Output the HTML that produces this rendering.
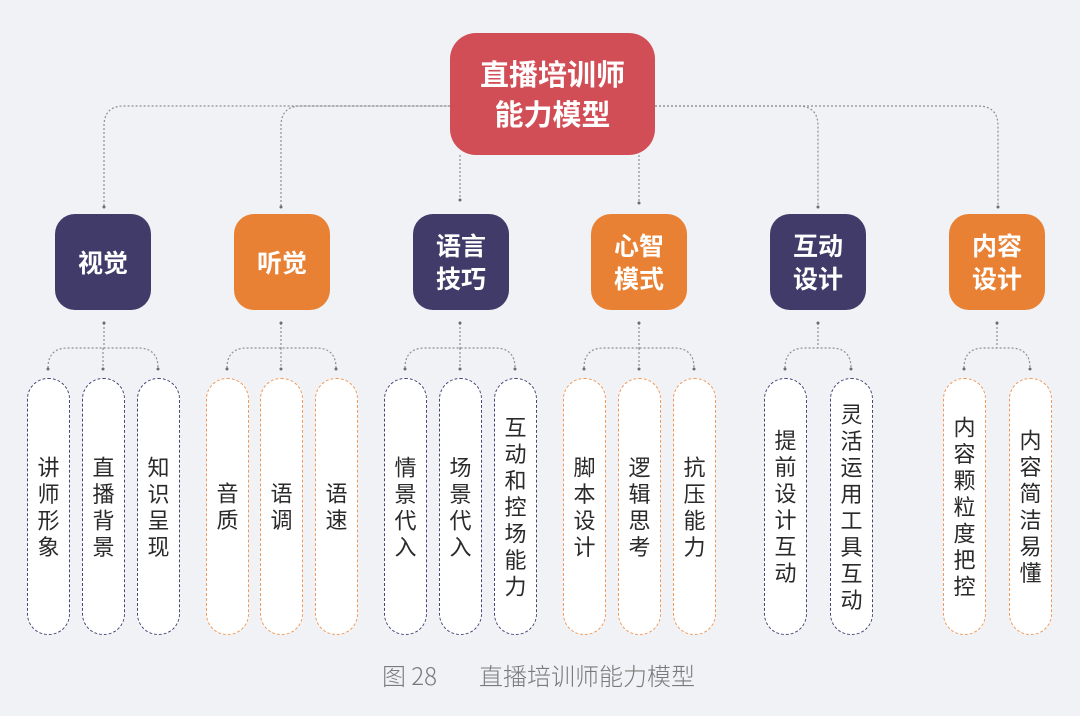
<!DOCTYPE html>
<html><head><meta charset="utf-8"><style>
html,body{margin:0;padding:0}
body{width:1080px;height:716px;background:#f0f2f5;position:relative;overflow:hidden;font-family:"Liberation Sans","Noto Sans CJK SC",sans-serif}
svg{position:absolute;left:0;top:0}
.pill{position:absolute;top:378px;width:43px;height:257px;border-radius:21px;background:#fff;display:flex;align-items:center;justify-content:center;box-sizing:border-box}
.pp{border:1.8px dashed #4a4478}
.po{border:1.8px dashed #ef9a5c}
.pill span{writing-mode:vertical-rl;font-size:22px;line-height:22px;letter-spacing:4.5px;color:#2a2a2a;font-family:"Noto Sans CJK SC",sans-serif;font-weight:400;margin-top:4px}
.cat{position:absolute;top:214px;width:96px;height:96px;border-radius:20px;color:#fff;display:flex;align-items:center;justify-content:center;text-align:center;font-size:25px;line-height:33px;font-weight:bold;font-family:"Noto Sans CJK SC",sans-serif}
.p{background:#413b69}.o{background:#e98134}
</style></head><body>
<svg width="1080" height="716">
<g fill="none" stroke="#8e9098" stroke-width="1.2" stroke-dasharray="2,2">
<path d="M104 206 V126 Q104 106 124 106 H450"/>
<path d="M281 206 V126 Q281 106 301 106 H450"/>
<path d="M655 106 H798 Q818 106 818 126 V206"/>
<path d="M655 106 H978 Q998 106 998 126 V206"/>
<path d="M460 155 V199"/>
<path d="M639 155 V202"/>
</g>
<g fill="#6a6c74">
<circle cx="104" cy="207" r="1.5"/><circle cx="281" cy="207" r="1.5"/><circle cx="460" cy="200" r="1.5"/><circle cx="639" cy="203" r="1.5"/><circle cx="818" cy="207" r="1.5"/><circle cx="998" cy="207" r="1.5"/>
</g>
<g fill="none" stroke="#8e9098" stroke-width="1.2" stroke-dasharray="2,2">
<path d="M104 323 V348 M48 368 Q48 348 68 348 H138 Q158 348 158 368 M103 348 V368"/>
<path d="M281 323 V348 M227 368 Q227 348 247 348 H316 Q336 348 336 368 M281 348 V368"/>
<path d="M460 323 V348 M405 368 Q405 348 425 348 H495 Q515 348 515 368 M460 348 V368"/>
<path d="M639 323 V348 M584 368 Q584 348 604 348 H674 Q694 348 694 368 M639 348 V368"/>
<path d="M818 323 V348 M785 368 Q785 348 805 348 H831 Q851 348 851 368"/>
<path d="M997 323 V348 M964 368 Q964 348 984 348 H1010 Q1030 348 1030 368"/>
</g>
<g fill="#6a6c74">
<circle cx="104" cy="323" r="1.5"/><circle cx="281" cy="323" r="1.5"/><circle cx="460" cy="323" r="1.5"/><circle cx="639" cy="323" r="1.5"/><circle cx="818" cy="323" r="1.5"/><circle cx="997" cy="323" r="1.5"/>
<circle cx="48" cy="369" r="1.5"/><circle cx="103" cy="369" r="1.5"/><circle cx="158" cy="369" r="1.5"/>
<circle cx="227" cy="369" r="1.5"/><circle cx="281" cy="369" r="1.5"/><circle cx="336" cy="369" r="1.5"/>
<circle cx="405" cy="369" r="1.5"/><circle cx="460" cy="369" r="1.5"/><circle cx="515" cy="369" r="1.5"/>
<circle cx="584" cy="369" r="1.5"/><circle cx="639" cy="369" r="1.5"/><circle cx="694" cy="369" r="1.5"/>
<circle cx="785" cy="369" r="1.5"/><circle cx="851" cy="369" r="1.5"/>
<circle cx="964" cy="369" r="1.5"/><circle cx="1030" cy="369" r="1.5"/>
</g>
<rect x="450" y="33" width="205" height="122" rx="26" fill="#d24e56"/>
<text x="552.5" y="85" text-anchor="middle" fill="#fff" font-size="29" font-weight="bold" font-family="Noto Sans CJK SC,sans-serif">直播培训师</text>
<text x="552.5" y="125" text-anchor="middle" fill="#fff" font-size="29" font-weight="bold" font-family="Noto Sans CJK SC,sans-serif">能力模型</text>
<text x="382" y="685" fill="#7a7a7a" font-size="24" font-weight="300" font-family="Noto Sans CJK SC,sans-serif">图 28</text>
<text x="695" y="685" text-anchor="end" fill="#7a7a7a" font-size="24" font-weight="300" font-family="Noto Sans CJK SC,sans-serif">直播培训师能力模型</text>
</svg>
<div class="cat p" style="left:55px">视觉</div>
<div class="cat o" style="left:234px">听觉</div>
<div class="cat p" style="left:413px">语言<br>技巧</div>
<div class="cat o" style="left:591px">心智<br>模式</div>
<div class="cat p" style="left:770px">互动<br>设计</div>
<div class="cat o" style="left:949px">内容<br>设计</div>

<div class="pill pp" style="left:27px"><span>讲师形象</span></div>
<div class="pill pp" style="left:82px"><span>直播背景</span></div>
<div class="pill pp" style="left:137px"><span>知识呈现</span></div>
<div class="pill po" style="left:206px"><span>音质</span></div>
<div class="pill po" style="left:260px"><span>语调</span></div>
<div class="pill po" style="left:315px"><span>语速</span></div>
<div class="pill pp" style="left:384px"><span>情景代入</span></div>
<div class="pill pp" style="left:439px"><span>场景代入</span></div>
<div class="pill pp" style="left:494px"><span>互动和控场能力</span></div>
<div class="pill po" style="left:563px"><span>脚本设计</span></div>
<div class="pill po" style="left:618px"><span>逻辑思考</span></div>
<div class="pill po" style="left:673px"><span>抗压能力</span></div>
<div class="pill pp" style="left:764px"><span>提前设计互动</span></div>
<div class="pill pp" style="left:830px"><span>灵活运用工具互动</span></div>
<div class="pill po" style="left:943px"><span>内容颗粒度把控</span></div>
<div class="pill po" style="left:1009px"><span>内容简洁易懂</span></div>
</body></html>
